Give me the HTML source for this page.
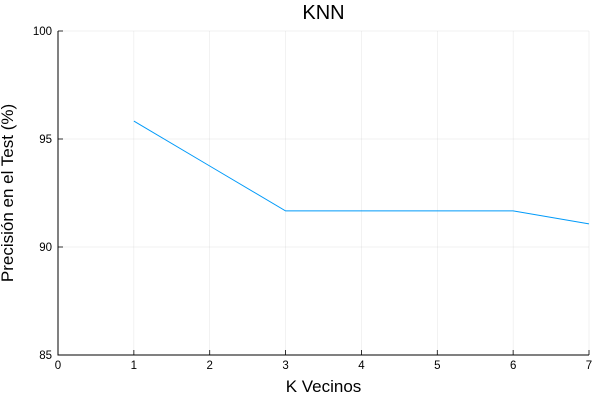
<!DOCTYPE html>
<html><head><meta charset="utf-8"><style>
body{margin:0;background:#fff}
svg{font-family:"Liberation Sans","DejaVu Sans",sans-serif}
</style></head><body>
<svg id="chart" width="600" height="400"></svg>
<script>
const kValues=[1,2,3,4,5,6,7];
const accuracy=[95.83,93.75,91.67,91.67,91.67,91.67,91.07];
const xTicks=[0,1,2,3,4,5,6,7];
const yTicks=[85,90,95,100];
const NS="http://www.w3.org/2000/svg";
const svg=document.getElementById('chart');
const x0=58,x1=589,y0=355,y1=31;
const xs=v=>x0+(v-0)/(7-0)*(x1-x0);
const ys=v=>y0-(v-85)/(100-85)*(y0-y1);
function mk(t,a,p){const e=document.createElementNS(NS,t);for(const k in a)e.setAttribute(k,a[k]);(p||svg).appendChild(e);return e;}
for(const t of xTicks){
 const g=mk('line',{x1:xs(t),x2:xs(t),y1:y1,y2:y0,stroke:'#000','stroke-opacity':0.1,'stroke-width':0.5});
 
 
 const tk=mk('line',{x1:xs(t),x2:xs(t),y1:y0,y2:y0-5,stroke:'#000','stroke-width':0.8});
 
 
 const l=mk('text',{x:xs(t),y:y0+14,'text-anchor':'middle','font-size':11.5});
 l.textContent=t;
 
 
}
for(const t of yTicks){
 const g=mk('line',{x1:x0,x2:x1,y1:ys(t),y2:ys(t),stroke:'#000','stroke-opacity':0.1,'stroke-width':0.5});
 
 
 const tk=mk('line',{x1:x0,x2:x0+5,y1:ys(t),y2:ys(t),stroke:'#000','stroke-width':0.8});
 
 
 const l=mk('text',{x:x0-6,y:ys(t)+4,'text-anchor':'end','font-size':11.5});
 l.textContent=t;
 
 
}
const ax=mk('path',{d:`M${x0},${y1}V${y0}H${x1}`,fill:'none',stroke:'#000','stroke-width':1});


const pts=kValues.map((k,i)=>xs(k)+','+ys(accuracy[i])).join(' ');
const line=mk('polyline',{points:pts,fill:'none',stroke:'#009af9','stroke-width':1});


const title=mk('text',{x:(x0+x1)/2,y:19,'text-anchor':'middle','font-size':20});
title.textContent='KNN';


const xl=mk('text',{x:(x0+x1)/2,y:392,'text-anchor':'middle','font-size':17});
xl.textContent='K Vecinos';


const yl=mk('text',{x:0,y:0,'text-anchor':'middle','font-size':17,transform:`translate(13,${(y0+y1)/2}) rotate(-90)`});
yl.textContent='Precisión en el Test (%)';


</script>
</body></html>
